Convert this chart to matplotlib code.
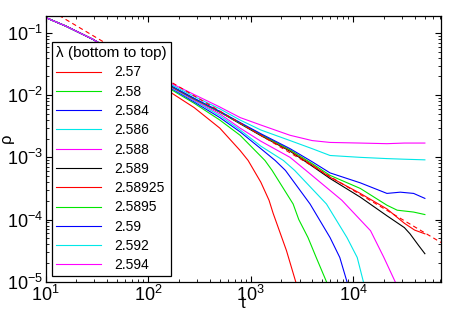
import numpy as np
import matplotlib
matplotlib.use('Agg')
import matplotlib.pyplot as plt

plt.rcParams['font.family'] = ['Liberation Sans', 'DejaVu Sans']
plt.rcParams['mathtext.fontset'] = 'custom'
plt.rcParams['mathtext.rm'] = 'Liberation Sans'

# lambda values, bottom to top, and their colours
labels = ['2.57', '2.58', '2.584', '2.586', '2.588', '2.589',
          '2.58925', '2.5895', '2.59', '2.592', '2.594']
colors = ['#ff0000', '#00e600', '#0000ff', '#00e8e8', '#ff00ff', '#000000',
          '#ff0000', '#00e600', '#0000ff', '#00e8e8', '#ff00ff']

# common early part (all curves overlap), log10 values
early_log_t = [1.0, 1.2, 1.46, 1.8, 2.0]
early_log_rho = [-0.75, -0.89, -1.10, -1.43, -1.62]

# later part of each curve, log10(t) and log10(rho)
log_t = {
    '2.57':    [2.215, 2.45, 2.70, 2.898, 2.976, 3.1, 3.18, 3.22, 3.35, 3.44],
    '2.58':    [2.215, 2.45, 2.70, 2.898, 3.14, 3.21, 3.415, 3.47, 3.56, 3.64, 3.74],
    '2.584':   [2.215, 2.45, 2.70, 2.898, 3.1, 3.24, 3.34, 3.58, 3.775, 3.87, 3.94],
    '2.586':   [2.215, 2.45, 2.70, 2.898, 3.1, 3.32, 3.43, 3.74, 3.94, 4.04, 4.10],
    '2.588':   [2.215, 2.45, 2.70, 2.898, 3.1, 3.385, 3.54, 3.89, 4.17, 4.30, 4.41],
    '2.589':   [2.215, 2.45, 2.70, 2.898, 3.1, 3.385, 3.6, 3.775, 4.07, 4.33, 4.5, 4.555, 4.64, 4.70],
    '2.58925': [2.215, 2.45, 2.70, 2.898, 3.1, 3.385, 3.6, 3.775, 4.07, 4.33, 4.5, 4.6, 4.70],
    '2.5895':  [2.215, 2.45, 2.70, 2.898, 3.1, 3.385, 3.6, 3.775, 4.07, 4.33, 4.43, 4.59, 4.70],
    '2.59':    [2.215, 2.45, 2.70, 2.898, 3.1, 3.385, 3.6, 3.775, 4.07, 4.33, 4.46, 4.59, 4.70],
    '2.592':   [2.215, 2.45, 2.70, 2.898, 3.1, 3.385, 3.6, 3.775, 4.07, 4.33, 4.5, 4.70],
    '2.594':   [2.215, 2.45, 2.70, 2.898, 3.1, 3.385, 3.6, 3.775, 4.07, 4.33, 4.5, 4.70],
}
log_rho = {
    '2.57':    [-1.95, -2.20, -2.53, -2.89, -3.05, -3.40, -3.69, -3.90, -4.50, -5.0],
    '2.58':    [-1.90, -2.13, -2.40, -2.645, -3.05, -3.21, -3.75, -4.0, -4.29, -4.61, -5.0],
    '2.584':   [-1.88, -2.11, -2.36, -2.59, -2.86, -3.05, -3.21, -3.75, -4.29, -4.61, -5.0],
    '2.586':   [-1.87, -2.09, -2.33, -2.56, -2.82, -3.05, -3.21, -3.75, -4.29, -4.61, -5.0],
    '2.588':   [-1.86, -2.08, -2.30, -2.53, -2.74, -3.0, -3.21, -3.69, -4.18, -4.61, -5.0],
    '2.589':   [-1.85, -2.06, -2.27, -2.46, -2.65, -2.90, -3.14, -3.34, -3.64, -3.94, -4.13, -4.23, -4.42, -4.55],
    '2.58925': [-1.85, -2.06, -2.27, -2.45, -2.64, -2.89, -3.12, -3.32, -3.58, -3.83, -4.06, -4.17, -4.23],
    '2.5895':  [-1.845, -2.06, -2.27, -2.45, -2.63, -2.88, -3.10, -3.29, -3.50, -3.77, -3.85, -3.88, -3.92],
    '2.59':    [-1.84, -2.05, -2.26, -2.44, -2.62, -2.86, -3.07, -3.25, -3.41, -3.58, -3.56, -3.58, -3.66],
    '2.592':   [-1.82, -2.02, -2.22, -2.40, -2.56, -2.73, -2.86, -2.97, -3.00, -3.02, -3.03, -3.04],
    '2.594':   [-1.80, -1.99, -2.19, -2.36, -2.48, -2.645, -2.73, -2.76, -2.77, -2.78, -2.77, -2.77],
}

# dashed power-law guide
guide_t = [10, 72000]
guide_rho = [0.258, 4.27e-5]

fig = plt.figure(figsize=(4.52, 3.2), dpi=100)
ax = fig.add_axes([0.1007, 0.1197, 0.875, 0.8313])

for lab, c in zip(labels, colors):
    lt = np.array(early_log_t + log_t[lab])
    lr = np.array(early_log_rho + log_rho[lab])
    ax.plot(10 ** lt, 10 ** lr, color=c, lw=0.8, label=lab)

ax.plot(guide_t, guide_rho, color='#ff0000', lw=0.8, ls=(0, (4, 3)))

ax.set_xscale('log')
ax.set_yscale('log')
ax.set_xlim(10, 72000)
ax.set_ylim(1e-5, 0.19)

ax.tick_params(which='both', direction='in', top=True, right=True,
               labelsize=13, pad=2)
ax.tick_params(which='major', length=4, width=0.8)
ax.tick_params(which='minor', length=2.5, width=0.6)
for s in ax.spines.values():
    s.set_linewidth(0.9)

ax.set_xlabel('t', fontsize=12, labelpad=-6)
ax.set_ylabel('\u03c1', fontsize=12)
ax.yaxis.set_label_coords(-0.08, 0.54)

leg = ax.legend(loc='upper left', bbox_to_anchor=(0.0164, 0.901),
                borderaxespad=0, title='\u03bb (bottom to top)',
                fontsize=10, title_fontsize=11, frameon=True, fancybox=False,
                edgecolor='black', framealpha=1, handlelength=3.2,
                handletextpad=0.95, labelspacing=0.38, borderpad=0.3)
leg._legend_box.align = 'left'
leg.get_frame().set_linewidth(0.9)

fig.savefig('out.png', dpi=100)
